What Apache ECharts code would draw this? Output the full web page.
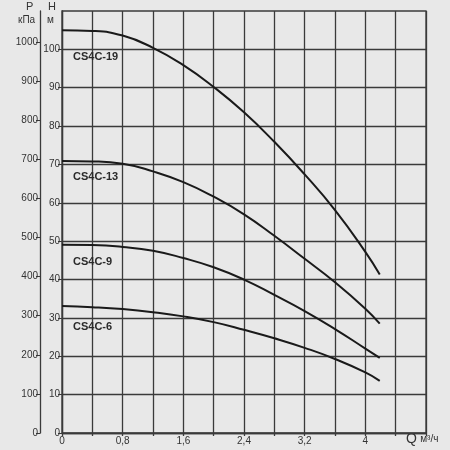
<!DOCTYPE html>
<html><head><meta charset="utf-8">
<script src="https://cdn.jsdelivr.net/npm/echarts@6/dist/echarts.min.js"></script>
<style>html,body{margin:0;padding:0;background:#e8e8e8;}#c{width:450px;height:450px;}</style>
</head><body><div id="c"></div>
<script>
const flow = [0, 0.4, 0.8, 1.2, 1.6, 2.0, 2.4, 2.8, 3.2, 3.6, 4.0, 4.19];
const headCS4C19 = [105, 104.8, 103.6, 100.4, 95.9, 90.2, 83.6, 75.9, 67.4, 58.1, 47.2, 41.3];
const headCS4C13 = [70.9, 70.8, 70.2, 68.2, 65.4, 61.6, 57.0, 51.4, 45.4, 39.3, 32.4, 28.5];
const headCS4C9 = [49.1, 49.0, 48.5, 47.5, 45.6, 43.2, 40.0, 36.0, 31.8, 27.1, 22.0, 19.6];
const headCS4C6 = [33.1, 32.8, 32.3, 31.5, 30.4, 28.9, 26.9, 24.7, 22.2, 19.3, 15.8, 13.6];
const seriesNames = ['CS4C-19', 'CS4C-13', 'CS4C-9', 'CS4C-6'];
const labelAt = [[0.145, 98.0], [0.145, 66.8], [0.145, 44.6], [0.145, 27.6]];
const hTicks = [0, 10, 20, 30, 40, 50, 60, 70, 80, 90, 100];
const pTicks = [0, 100, 200, 300, 400, 500, 600, 700, 800, 900, 1000];
const xTicks = [0, 0.8, 1.6, 2.4, 3.2, 4];

const heads = [headCS4C19, headCS4C13, headCS4C9, headCS4C6];
const gridColor = '#3a3a3a';
const font = 'Liberation Sans, Arial, sans-serif';
const chart = echarts.init(document.getElementById('c'));
chart.setOption({
  backgroundColor: '#e8e8e8',
  animation: false,
  grid: {left: 62, right: 24, top: 11, bottom: 17, show: true, borderColor: gridColor, borderWidth: 1.3, backgroundColor: 'transparent'},
  xAxis: {
    type: 'value', min: 0, max: 4.8, interval: 0.4,
    axisLine: {show: true, lineStyle: {color: gridColor, width: 1.3}},
    axisTick: {show: true, length: 3, lineStyle: {color: gridColor, width: 1.3}},
    splitLine: {show: true, lineStyle: {color: gridColor, width: 1.3}},
    axisLabel: {
      color: '#333', fontSize: 10, fontFamily: font, margin: 3,
      customValues: xTicks,
      formatter: v => String(Math.round(v * 10) / 10).replace('.', ',')
    }
  },
  yAxis: [
    {
      type: 'value', min: 0, max: 110, interval: 10, position: 'left',
      axisLine: {show: true, lineStyle: {color: gridColor, width: 1.3}},
      axisTick: {show: true, length: 4, customValues: hTicks, lineStyle: {color: gridColor, width: 1}},
      splitLine: {show: true, lineStyle: {color: gridColor, width: 1.3}},
      axisLabel: {color: '#333', fontSize: 10, fontFamily: font, margin: 2, customValues: hTicks, formatter: v => String(v)}
    },
    {
      type: 'value', min: 0, max: 110 * 9.81, interval: 100, position: 'left', offset: 22,
      axisLine: {show: true, onZero: false, lineStyle: {color: gridColor, width: 1.3}},
      axisTick: {show: true, length: 4, customValues: pTicks, lineStyle: {color: gridColor, width: 1}},
      splitLine: {show: false},
      axisLabel: {color: '#333', fontSize: 10, fontFamily: font, margin: 2, customValues: pTicks, formatter: v => String(v)}
    }
  ],
  series: heads.map((h, i) => ({
    type: 'line', name: seriesNames[i], yAxisIndex: 0,
    smooth: 0.5, symbol: 'none',
    lineStyle: {color: '#1a1a1a', width: 2},
    data: flow.map((q, j) => [q, h[j]]),
    markPoint: {
      symbol: 'circle', symbolSize: 0, silent: true,
      label: {show: true, position: 'inside', align: 'left', verticalAlign: 'middle',
        formatter: seriesNames[i], color: '#2a2a2a', fontSize: 11, fontWeight: 'bold', fontFamily: font},
      data: [{coord: labelAt[i]}]
    }
  })),
  graphic: [
    {type: 'text', left: 26, top: 1, style: {text: 'P', fontSize: 11, fill: '#333', fontFamily: font}},
    {type: 'text', left: 18, top: 15, style: {text: 'кПа', fontSize: 10, fill: '#333', fontFamily: font}},
    {type: 'text', left: 48, top: 1, style: {text: 'H', fontSize: 11, fill: '#333', fontFamily: font}},
    {type: 'text', left: 47, top: 15, style: {text: 'м', fontSize: 10, fill: '#333', fontFamily: font}},
    {type: 'text', left: 406, top: 432, style: {
      text: '{q|Q} {u|м³/ч}', fill: '#333', fontFamily: font,
      rich: {q: {fontSize: 14, fill: '#333', fontFamily: font}, u: {fontSize: 10, fill: '#333', fontFamily: font}}
    }}
  ]
});
</script>
</body></html>
